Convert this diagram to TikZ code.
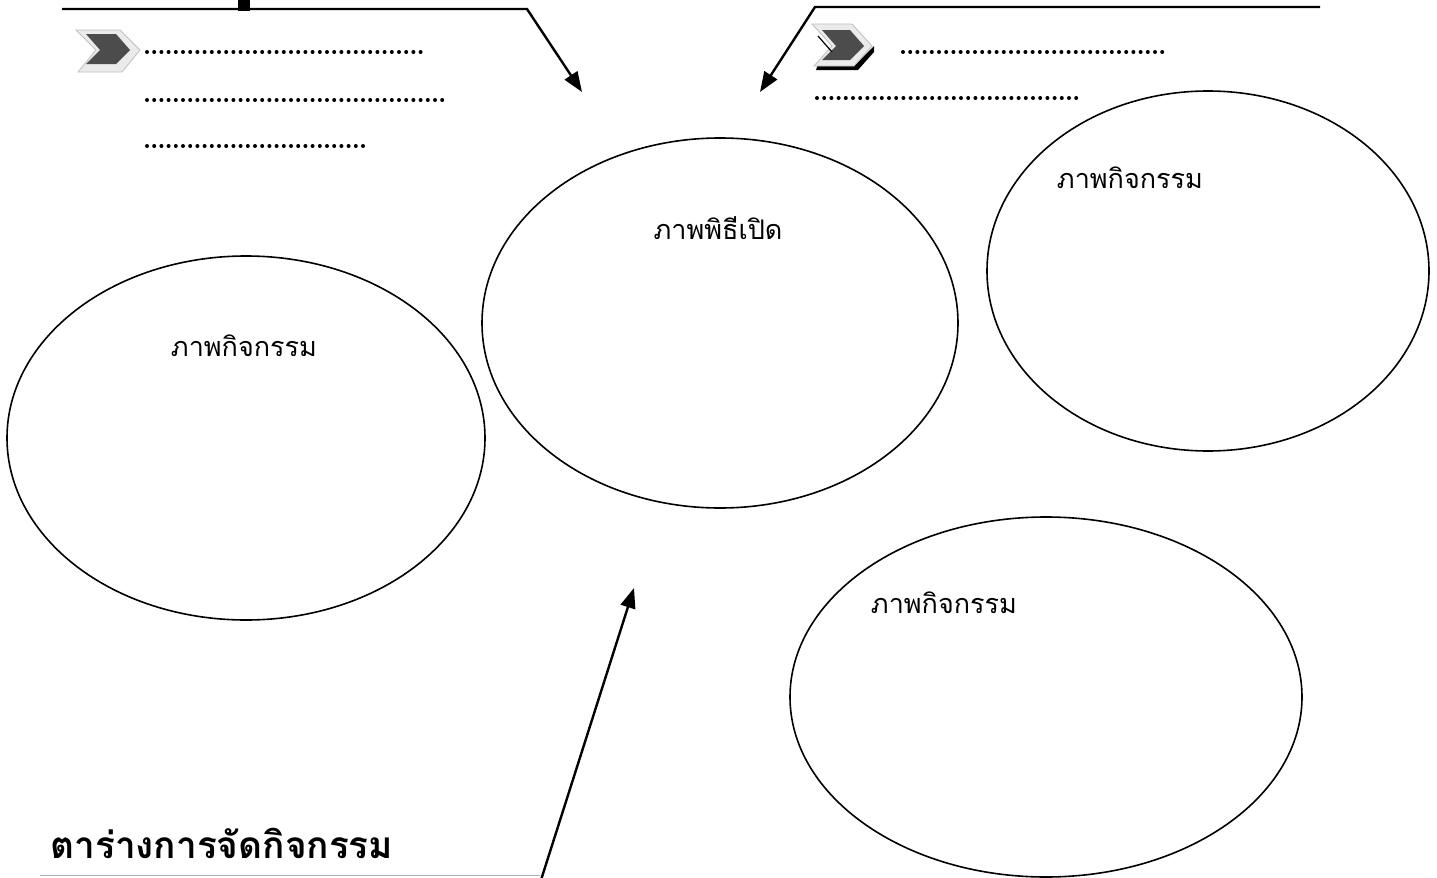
\documentclass[tikz,border=0pt]{standalone}
\usepackage{fontspec}
\newfontfamily\thaifont[Script=Thai]{Loma}
\usetikzlibrary{shapes.geometric,arrows.meta}
\begin{document}
\begin{tikzpicture}[x=0.5pt,y=-0.5pt,
  oval/.style={ellipse,draw,line width=0.8pt,inner sep=0pt},
  lbl/.style={font=\thaifont\fontsize{13.5}{15}\selectfont,inner sep=0pt},
  arr/.style={line width=1.2pt,-{Triangle[length=10pt,width=7.5pt]}},
  dots/.style={line width=2pt,line cap=round,dash pattern=on 0pt off 3.6pt},
  chev/.style={fill=black!70,draw=none},
  chevframe/.style={fill=black!8,draw=black!25,line width=0.4pt}]
\useasboundingbox (0,0) rectangle (1437,878);
\fill[white] (0,0) rectangle (1437,878);

% ovals
\node[oval,minimum width=239pt,minimum height=182pt] (left) at (246,438) {};
\node[oval,minimum width=238pt,minimum height=185pt] (centre) at (720,323) {};
\node[oval,minimum width=221pt,minimum height=180pt] (topright) at (1208,271) {};
\node[oval,minimum width=256pt,minimum height=180pt] (botright) at (1046,697) {};

% labels
\node[lbl] (tc) at (718,228) {ภาพพิธีเปิด};
\node[lbl] (tl) at (244,346) {ภาพกิจกรรม};
\node[lbl] (tr) at (1130,178) {ภาพกิจกรรม};
\node[lbl] (tb) at (944,603) {ภาพกิจกรรม};
\node[font=\thaifont\bfseries\fontsize{18.5}{20}\selectfont,inner sep=0pt,anchor=west] (title) at (50,843) {ตาร่างการจัดกิจกรรม};

% arrows
\coordinate (a1s) at (62,9);
\coordinate (a1m) at (527,9);
\coordinate (a1e) at (582,92);
\draw[arr] (a1s) -- (a1m) -- (a1e);
\coordinate (a2s) at (1320,7);
\coordinate (a2m) at (815,7);
\coordinate (a2e) at (760,92);
\draw[arr] (a2s) -- (a2m) -- (a2e);
\coordinate (a3s) at (541,880);
\coordinate (a3e) at (634,588);
\draw[arr] (a3s) -- (a3e);

% fragment of cut-off title letter
\fill (238,0) rectangle (250,11);

% faint bottom rule
\coordinate (b1) at (40,875);
\coordinate (b2) at (540,875);
\draw[black!30,line width=0.5pt] (b1) -- (b2);

% dotted lines
\draw[dots] (147,52) -- (421,52);
\draw[dots] (147,100) -- (447,100);
\draw[dots] (147,146) -- (368,146);
\draw[dots] (903,52) -- (1165,52);
\draw[dots] (817,98) -- (1080,98);

% left chevron icon
\fill[chevframe] (76,30) -- (120,30) -- (140,50) -- (122,72) -- (78,72) -- (96,50) -- cycle;
\fill[chev] (86,34) -- (116,34) -- (130,50) -- (116,64) -- (86,64) -- (100,50) -- cycle;

% right chevron icon
\fill[black] (818,64) -- (856,64) -- (874,46) -- (874,52) -- (858,70) -- (816,70) -- cycle;
\fill[chevframe] (812,24) -- (852,24) -- (872,46) -- (854,66) -- (814,66) -- (832,46) -- cycle;
\fill[chev] (822,30) -- (850,30) -- (864,46) -- (850,60) -- (822,60) -- (836,46) -- cycle;
\draw[line width=0.6pt] (818,36) -- (832,52);
\end{tikzpicture}
\end{document}
